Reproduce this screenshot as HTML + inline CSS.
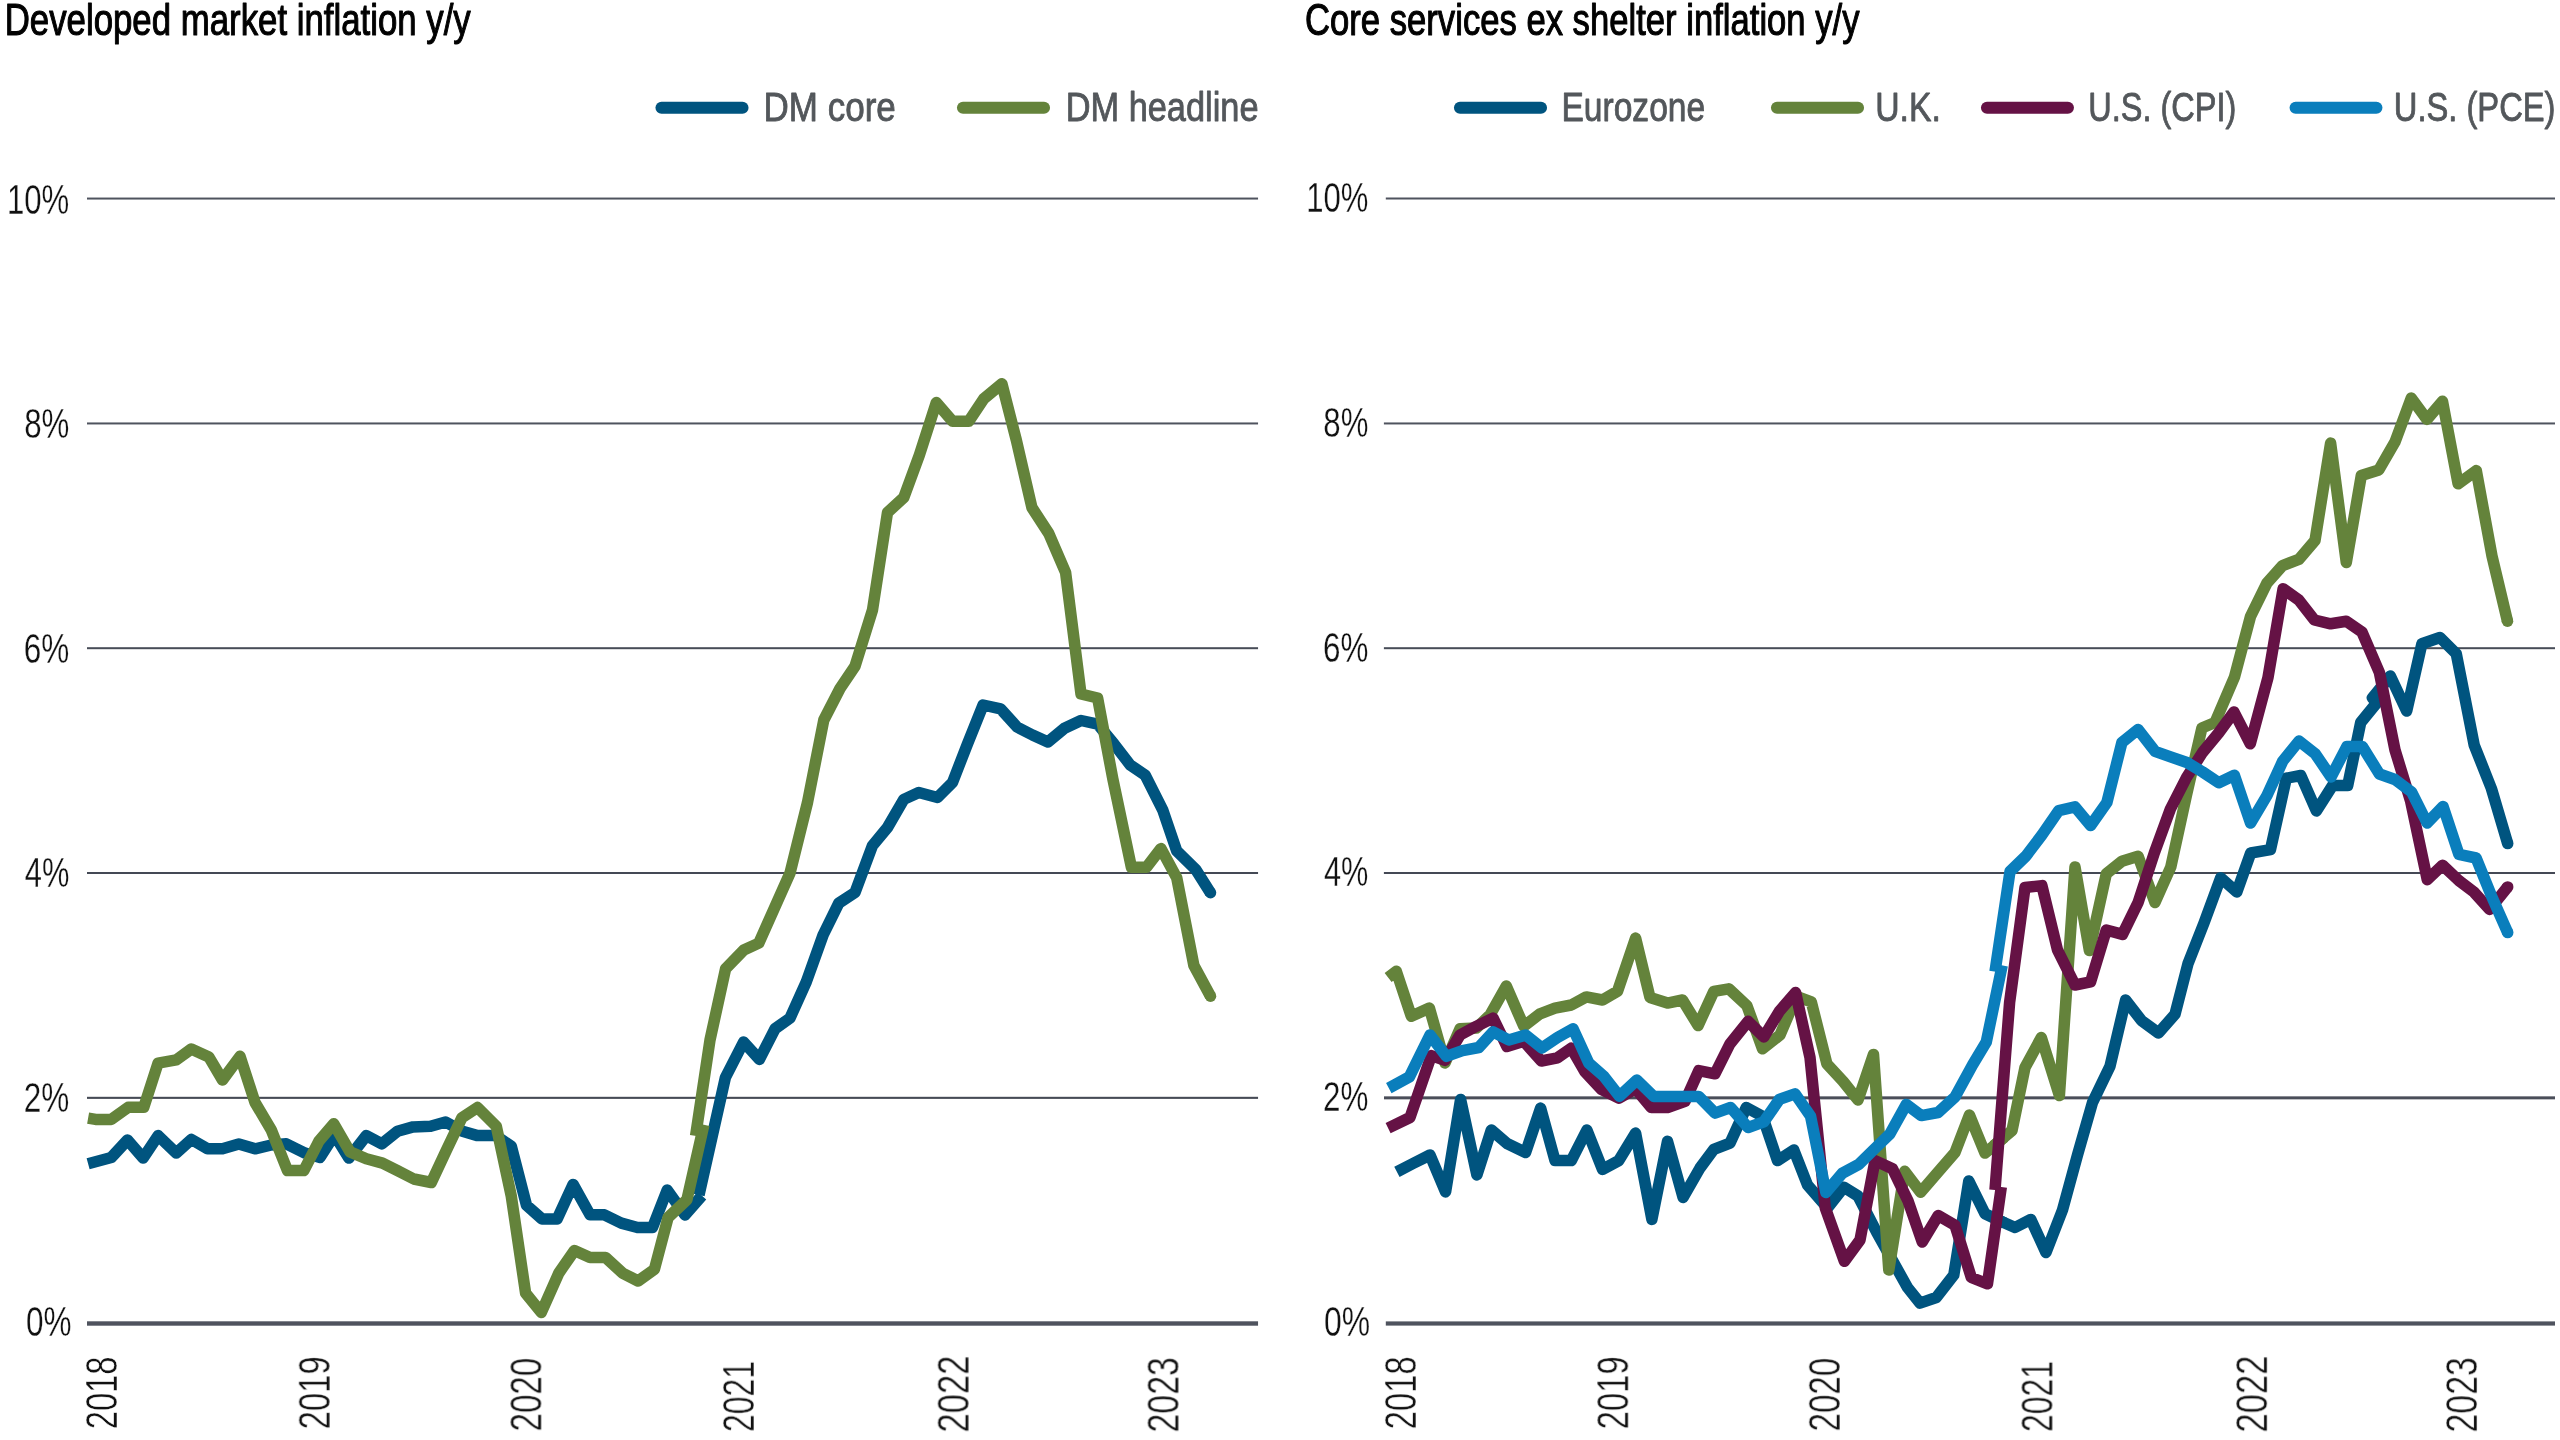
<!DOCTYPE html>
<html><head><meta charset="utf-8"><title>Inflation charts</title>
<style>html,body{margin:0;padding:0;background:#fff}svg{display:block}text{font-family:"Liberation Sans",sans-serif}</style></head><body>
<svg width="2560" height="1440" viewBox="0 0 2560 1440">
<rect width="2560" height="1440" fill="#fff"/>
<rect x="87.00" y="197.55" width="1171.05" height="2.00" fill="#4f535e"/>
<rect x="87.00" y="422.45" width="1171.05" height="2.00" fill="#4f535e"/>
<rect x="87.00" y="647.20" width="1171.05" height="2.00" fill="#474c57"/>
<rect x="87.00" y="872.00" width="1171.05" height="2.00" fill="#444955"/>
<rect x="87.00" y="1096.80" width="1171.05" height="2.10" fill="#464b56"/>
<rect x="87.00" y="1321.30" width="1171.05" height="4.40" fill="#4f535e"/>
<rect x="1385.80" y="197.50" width="1169.20" height="2.00" fill="#4f535e"/>
<rect x="1383.90" y="422.45" width="1171.10" height="2.00" fill="#4f535e"/>
<rect x="1383.90" y="647.20" width="1171.10" height="2.00" fill="#474c57"/>
<rect x="1383.90" y="872.00" width="1171.10" height="2.00" fill="#444955"/>
<rect x="1384.00" y="1096.35" width="1171.00" height="3.00" fill="#4a4e59"/>
<rect x="1385.80" y="1321.40" width="1169.20" height="4.20" fill="#4f535e"/>
<polyline fill="none" stroke="#00547f" stroke-width="11.5" stroke-linejoin="round" stroke-linecap="butt" points="88.1,1163.8 111.3,1157.5 127.5,1140.0 143.1,1158.1 158.1,1135.6 176.3,1153.1 191.3,1139.4 207.5,1148.8 222.5,1148.8 238.8,1144.0 255.0,1148.8 271.3,1145.0 286.3,1143.8 305.0,1153.1 320.0,1157.5 334.4,1134.8 348.8,1158.1 366.3,1135.6 381.9,1143.8 397.5,1131.3 413.1,1126.9 430.6,1126.3 445.6,1121.9 462.5,1131.3 477.5,1135.6 495.6,1135.6 511.3,1146.3 526.5,1205.3 541.9,1218.9 557.2,1218.9 573.1,1184.4 590.0,1214.8 604.4,1214.8 621.3,1223.1 637.5,1227.5 652.5,1227.5 667.2,1190.0 685.0,1215.0 701.9,1195.6"/>
<polyline fill="none" stroke="#00547f" stroke-width="11.5" stroke-linejoin="round" stroke-linecap="butt" points="699.0,1195.0 725.4,1077.5 743.6,1042.0 759.4,1059.4 775.0,1028.8 790.0,1018.1 806.3,981.9 823.1,935.0 838.8,903.1 855.0,892.5 872.5,845.6 887.5,827.5 903.8,799.4 918.8,792.5 937.5,797.5 952.5,782.5 967.5,743.8 983.1,705.0 1000.6,708.8 1017.0,727.0 1032.5,735.0 1047.9,742.0 1064.5,728.3 1081.0,720.5 1097.7,724.2 1114.0,744.0 1130.2,764.9 1145.3,775.3 1162.8,810.2 1176.7,850.9 1195.8,869.6 1210.5,892.8"/>
<circle cx="1210.5" cy="892.8" r="5.75" fill="#00547f"/>
<polyline fill="none" stroke="#64833b" stroke-width="11.5" stroke-linejoin="round" stroke-linecap="butt" points="88.1,1118.1 95.6,1119.4 111.3,1119.4 128.1,1107.3 143.8,1107.3 158.1,1063.1 176.3,1059.8 191.3,1049.0 208.8,1056.9 222.5,1080.0 240.0,1056.3 255.0,1102.5 271.3,1130.0 287.5,1170.6 303.8,1170.6 318.8,1141.3 333.8,1123.8 350.0,1151.9 366.3,1158.8 382.5,1163.1 397.5,1170.6 413.8,1179.0 431.3,1182.5 446.5,1150.0 461.9,1117.8 477.5,1107.5 496.3,1126.3 511.3,1196.3 525.6,1293.1 541.3,1312.5 558.8,1273.1 574.4,1250.6 590.0,1257.5 605.6,1257.5 622.5,1273.1 638.1,1281.0 654.4,1269.4 668.1,1217.5 686.9,1199.8 703.9,1124.7"/>
<polyline fill="none" stroke="#64833b" stroke-width="11.5" stroke-linejoin="round" stroke-linecap="butt" points="695.6,1135.8 710.0,1040.0 725.6,968.8 743.8,950.0 758.8,943.1 774.4,908.1 790.0,873.1 807.5,802.5 823.8,720.0 840.0,688.5 855.0,666.3 872.5,610.0 887.5,512.5 903.8,497.5 919.4,455.0 936.3,402.5 952.5,421.3 968.8,421.3 983.8,398.8 1001.9,383.8 1016.3,440.0 1031.9,507.5 1048.8,533.5 1065.6,572.5 1081.0,694.0 1097.6,698.0 1112.8,778.8 1131.4,867.2 1146.5,867.2 1160.9,848.6 1176.7,877.7 1193.9,965.6 1210.5,996.3"/>
<circle cx="1210.5" cy="996.3" r="5.75" fill="#64833b"/>
<polyline fill="none" stroke="#00547f" stroke-width="11.5" stroke-linejoin="round" stroke-linecap="butt" points="1396.9,1171.9 1413.0,1163.5 1430.0,1155.0 1445.6,1191.9 1460.6,1099.4 1476.9,1175.0 1491.3,1130.0 1507.5,1143.8 1525.6,1152.5 1540.6,1108.1 1555.0,1160.6 1571.3,1160.6 1586.9,1130.0 1602.5,1169.4 1618.8,1160.6 1635.6,1133.1 1651.9,1219.4 1667.5,1141.3 1683.1,1197.5 1700.0,1168.0 1713.8,1149.4 1730.0,1143.1 1746.3,1107.5 1762.5,1116.3 1777.5,1160.6 1793.8,1150.0 1807.5,1185.0 1827.5,1208.0 1843.8,1187.2 1858.0,1196.0 1876.5,1231.9 1892.5,1260.6 1907.5,1287.5 1920.0,1303.1 1936.3,1297.5 1953.8,1275.0 1968.8,1181.0 1985.0,1213.8 2004.5,1223.0"/>
<polyline fill="none" stroke="#00547f" stroke-width="11.5" stroke-linejoin="round" stroke-linecap="butt" points="1993.5,1218.0 2015.0,1227.5 2030.8,1219.4 2046.0,1252.5 2062.5,1210.0 2077.5,1155.0 2092.5,1102.5 2110.0,1066.3 2125.6,1000.0 2141.5,1020.6 2158.5,1033.0 2175.0,1014.3 2188.0,963.6 2204.0,923.0 2220.7,877.8 2236.8,892.0 2250.7,853.0 2270.5,849.6 2286.3,778.2 2300.8,775.5 2316.4,811.0 2332.5,785.6 2347.7,785.6 2360.7,722.5 2376.6,703.0 2372.4,697.8 2390.3,676.0 2406.7,711.0 2421.9,643.8 2440.0,637.5 2456.3,653.8 2474.2,745.1 2491.4,788.5 2507.7,843.6"/>
<circle cx="2507.7" cy="843.6" r="5.75" fill="#00547f"/>
<polyline fill="none" stroke="#64833b" stroke-width="11.5" stroke-linejoin="round" stroke-linecap="butt" points="1388.1,977.5 1396.3,971.3 1411.3,1016.3 1429.4,1008.1 1445.0,1063.0 1460.0,1028.8 1476.3,1028.1 1490.0,1015.0 1506.3,986.0 1523.8,1026.3 1540.0,1013.8 1555.0,1008.1 1571.3,1005.0 1586.3,996.9 1602.5,1000.0 1617.5,991.3 1635.6,938.1 1650.0,997.5 1667.5,1003.1 1682.5,1000.0 1698.1,1025.6 1713.8,991.3 1728.8,988.8 1746.9,1005.6 1762.5,1048.8 1780.0,1035.0 1796.5,996.3 1811.3,1001.9 1826.9,1063.8 1843.1,1081.3 1858.0,1100.0 1873.5,1054.4 1888.8,1270.0 1904.6,1171.3 1920.6,1192.2 1938.1,1171.9 1955.0,1152.5 1969.4,1115.0 1985.0,1153.1 2004.5,1137.0"/>
<polyline fill="none" stroke="#64833b" stroke-width="11.5" stroke-linejoin="round" stroke-linecap="butt" points="1993.5,1146.0 2012.0,1130.5 2025.0,1067.5 2041.3,1037.5 2059.4,1095.6 2075.0,866.9 2089.4,950.6 2106.3,873.8 2121.9,861.3 2138.1,856.3 2155.0,902.5 2170.8,867.0 2186.5,795.0 2201.9,728.0 2215.0,722.5 2234.5,677.0 2250.5,616.5 2266.9,583.1 2282.5,565.6 2298.8,559.4 2315.0,540.6 2330.6,443.1 2346.3,562.5 2361.3,475.6 2378.8,470.0 2395.0,441.9 2411.3,398.1 2426.9,419.4 2442.5,401.3 2458.1,483.8 2476.3,470.6 2492.0,556.0 2507.5,621.3"/>
<circle cx="2507.5" cy="621.3" r="5.75" fill="#64833b"/>
<polyline fill="none" stroke="#651245" stroke-width="11.5" stroke-linejoin="round" stroke-linecap="butt" points="1388.1,1128.1 1410.0,1117.5 1431.3,1055.6 1445.0,1060.3 1460.0,1035.0 1476.3,1026.3 1493.1,1018.1 1506.9,1046.5 1523.8,1041.3 1541.3,1061.0 1557.5,1057.8 1571.3,1048.1 1585.0,1071.9 1601.3,1089.4 1618.8,1098.1 1635.6,1088.8 1651.3,1107.5 1667.5,1107.5 1685.0,1101.3 1698.8,1070.6 1715.0,1073.8 1730.0,1043.8 1748.1,1021.3 1763.8,1036.9 1779.4,1011.3 1795.6,992.5 1810.0,1057.5 1825.3,1208.0 1844.4,1261.3 1860.0,1240.0 1875.0,1160.6 1892.5,1168.8 1908.2,1201.3 1922.2,1242.0 1938.2,1215.6 1955.0,1225.3 1971.3,1277.5 1987.5,1283.8 2001.3,1187.0"/>
<polyline fill="none" stroke="#651245" stroke-width="11.5" stroke-linejoin="round" stroke-linecap="butt" points="1995.0,1190.0 2009.6,1002.5 2025.0,887.5 2041.9,885.6 2057.5,950.0 2075.0,985.0 2090.6,981.9 2106.3,930.0 2122.5,934.4 2138.1,902.5 2154.3,853.0 2170.4,809.0 2186.5,777.5 2202.5,752.5 2218.6,733.0 2234.0,712.0 2250.3,743.8 2268.0,677.5 2283.1,588.8 2298.8,600.0 2314.4,620.0 2330.6,623.8 2346.3,621.3 2361.9,631.9 2379.4,672.5 2395.0,750.0 2410.6,801.0 2427.3,879.7 2442.6,865.2 2458.9,880.6 2474.2,892.3 2489.6,909.5 2507.7,886.9"/>
<circle cx="2507.7" cy="886.9" r="5.75" fill="#651245"/>
<polyline fill="none" stroke="#0a7ebc" stroke-width="11.5" stroke-linejoin="round" stroke-linecap="butt" points="1388.8,1088.1 1409.4,1076.9 1430.0,1035.0 1446.3,1056.3 1462.5,1050.6 1478.8,1047.5 1493.1,1031.9 1508.8,1040.0 1525.6,1035.0 1541.9,1048.1 1557.5,1037.5 1573.1,1028.8 1588.8,1063.1 1603.8,1076.3 1619.4,1096.3 1636.9,1080.0 1653.8,1096.5 1698.8,1096.4 1715.0,1113.1 1730.6,1107.5 1748.1,1127.5 1763.8,1121.9 1779.4,1099.4 1795.0,1093.8 1810.6,1116.3 1825.9,1192.5 1842.5,1173.1 1858.8,1164.4 1874.4,1149.0 1890.0,1133.8 1906.3,1104.4 1921.3,1115.6 1938.1,1112.5 1955.0,1096.9 1972.5,1065.0 1986.3,1042.0 2002.2,965.3"/>
<polyline fill="none" stroke="#0a7ebc" stroke-width="11.5" stroke-linejoin="round" stroke-linecap="butt" points="1995.0,971.6 2010.0,871.5 2026.0,856.0 2041.9,835.0 2058.8,810.6 2075.0,806.9 2090.6,825.6 2106.9,802.5 2121.9,742.5 2138.1,729.4 2155.0,751.3 2170.6,756.9 2186.9,762.5 2202.5,771.9 2218.8,782.8 2234.4,775.3 2250.6,823.1 2266.9,795.6 2282.8,761.0 2299.0,741.0 2315.2,753.7 2331.0,777.0 2346.8,746.6 2362.4,746.6 2379.4,774.0 2394.9,779.5 2411.6,792.0 2427.1,823.0 2443.0,806.4 2458.9,854.4 2476.1,858.0 2491.5,896.0 2507.7,932.6"/>
<circle cx="2507.7" cy="932.6" r="5.75" fill="#0a7ebc"/>
<line x1="661.5" y1="107.7" x2="742.5" y2="107.7" stroke="#00547f" stroke-width="12.1" stroke-linecap="round"/>
<line x1="963.0" y1="107.7" x2="1044.0" y2="107.7" stroke="#64833b" stroke-width="12.1" stroke-linecap="round"/>
<line x1="1460.0" y1="107.7" x2="1541.0" y2="107.7" stroke="#00547f" stroke-width="12.1" stroke-linecap="round"/>
<line x1="1777.0" y1="107.7" x2="1858.0" y2="107.7" stroke="#64833b" stroke-width="12.1" stroke-linecap="round"/>
<line x1="1987.0" y1="107.7" x2="2067.9" y2="107.7" stroke="#651245" stroke-width="12.1" stroke-linecap="round"/>
<line x1="2295.6" y1="107.7" x2="2376.4" y2="107.7" stroke="#0a7ebc" stroke-width="12.1" stroke-linecap="round"/>
<g opacity="0.999">
<text transform="translate(763.60,120.90) scale(0.8622,1)" font-size="40.58" fill="#53575b" stroke="#53575b" stroke-width="0.80" vector-effect="non-scaling-stroke" stroke-linejoin="round">DM core</text>
<text transform="translate(1065.65,120.90) scale(0.8470,1)" font-size="40.58" fill="#53575b" stroke="#53575b" stroke-width="0.80" vector-effect="non-scaling-stroke" stroke-linejoin="round">DM headline</text>
<text transform="translate(1561.46,121.10) scale(0.8217,1)" font-size="40.87" fill="#53575b" stroke="#53575b" stroke-width="0.80" vector-effect="non-scaling-stroke" stroke-linejoin="round">Eurozone</text>
<text transform="translate(1875.20,121.10) scale(0.8253,1)" font-size="40.87" fill="#53575b" stroke="#53575b" stroke-width="0.80" vector-effect="non-scaling-stroke" stroke-linejoin="round">U.K.</text>
<text transform="translate(2088.30,121.10) scale(0.7945,1)" font-size="40.87" fill="#53575b" stroke="#53575b" stroke-width="0.80" vector-effect="non-scaling-stroke" stroke-linejoin="round">U.S. (CPI)</text>
<text transform="translate(2393.78,121.10) scale(0.8001,1)" font-size="40.87" fill="#53575b" stroke="#53575b" stroke-width="0.80" vector-effect="non-scaling-stroke" stroke-linejoin="round">U.S. (PCE)</text>
<text transform="translate(4.72,34.50) scale(0.7874,1)" font-size="44.20" fill="#000" stroke="#000" stroke-width="1.00" vector-effect="non-scaling-stroke" stroke-linejoin="round">Developed market inflation y/y</text>
<text transform="translate(1305.02,34.50) scale(0.7840,1)" font-size="44.20" fill="#000" stroke="#000" stroke-width="1.00" vector-effect="non-scaling-stroke" stroke-linejoin="round">Core services ex shelter inflation y/y</text>
<text transform="translate(6.91,213.78) scale(0.7375,1)" font-size="42.25" fill="#111" stroke="#fff" stroke-width="0.30" paint-order="fill stroke">10%</text>
<text transform="translate(1306.26,211.78) scale(0.7357,1)" font-size="42.25" fill="#111" stroke="#fff" stroke-width="0.30" paint-order="fill stroke">10%</text>
<text transform="translate(24.15,438.28) scale(0.7411,1)" font-size="42.25" fill="#111" stroke="#fff" stroke-width="0.30" paint-order="fill stroke">8%</text>
<text transform="translate(1323.35,436.68) scale(0.7376,1)" font-size="42.25" fill="#111" stroke="#fff" stroke-width="0.30" paint-order="fill stroke">8%</text>
<text transform="translate(23.82,662.78) scale(0.7465,1)" font-size="42.25" fill="#111" stroke="#fff" stroke-width="0.30" paint-order="fill stroke">6%</text>
<text transform="translate(1323.03,661.58) scale(0.7431,1)" font-size="42.25" fill="#111" stroke="#fff" stroke-width="0.30" paint-order="fill stroke">6%</text>
<text transform="translate(24.78,887.27) scale(0.7201,1)" font-size="42.86" fill="#111" stroke="#fff" stroke-width="0.30" paint-order="fill stroke">4%</text>
<text transform="translate(1323.99,886.47) scale(0.7168,1)" font-size="42.86" fill="#111" stroke="#fff" stroke-width="0.30" paint-order="fill stroke">4%</text>
<text transform="translate(23.82,1111.78) scale(0.7465,1)" font-size="42.25" fill="#111" stroke="#fff" stroke-width="0.30" paint-order="fill stroke">2%</text>
<text transform="translate(1323.03,1111.38) scale(0.7431,1)" font-size="42.25" fill="#111" stroke="#fff" stroke-width="0.30" paint-order="fill stroke">2%</text>
<text transform="translate(25.94,1336.28) scale(0.7463,1)" font-size="42.25" fill="#111" stroke="#fff" stroke-width="0.30" paint-order="fill stroke">0%</text>
<text transform="translate(1324.12,1336.28) scale(0.7549,1)" font-size="42.25" fill="#111" stroke="#fff" stroke-width="0.30" paint-order="fill stroke">0%</text>
<text transform="translate(117.46,1429.34) rotate(-90) scale(0.7386,1)" font-size="44.37" fill="#111" stroke="#fff" stroke-width="0.45" paint-order="fill stroke">2018</text>
<text transform="translate(1415.96,1429.34) rotate(-90) scale(0.7386,1)" font-size="44.37" fill="#111" stroke="#fff" stroke-width="0.45" paint-order="fill stroke">2018</text>
<text transform="translate(329.76,1429.34) rotate(-90) scale(0.7530,1)" font-size="43.52" fill="#111" stroke="#fff" stroke-width="0.45" paint-order="fill stroke">2019</text>
<text transform="translate(1628.26,1429.34) rotate(-90) scale(0.7530,1)" font-size="43.52" fill="#111" stroke="#fff" stroke-width="0.45" paint-order="fill stroke">2019</text>
<text transform="translate(541.36,1431.45) rotate(-90) scale(0.7605,1)" font-size="43.52" fill="#111" stroke="#fff" stroke-width="0.45" paint-order="fill stroke">2020</text>
<text transform="translate(1839.86,1431.45) rotate(-90) scale(0.7605,1)" font-size="43.52" fill="#111" stroke="#fff" stroke-width="0.45" paint-order="fill stroke">2020</text>
<text transform="translate(753.96,1431.99) rotate(-90) scale(0.7303,1)" font-size="43.66" fill="#111" stroke="#fff" stroke-width="0.45" paint-order="fill stroke">2021</text>
<text transform="translate(2052.46,1431.99) rotate(-90) scale(0.7303,1)" font-size="43.66" fill="#111" stroke="#fff" stroke-width="0.45" paint-order="fill stroke">2021</text>
<text transform="translate(968.66,1432.53) rotate(-90) scale(0.7941,1)" font-size="43.66" fill="#111" stroke="#fff" stroke-width="0.45" paint-order="fill stroke">2022</text>
<text transform="translate(2267.16,1432.53) rotate(-90) scale(0.7941,1)" font-size="43.66" fill="#111" stroke="#fff" stroke-width="0.45" paint-order="fill stroke">2022</text>
<text transform="translate(1178.55,1432.49) rotate(-90) scale(0.7581,1)" font-size="44.65" fill="#111" stroke="#fff" stroke-width="0.45" paint-order="fill stroke">2023</text>
<text transform="translate(2477.05,1432.49) rotate(-90) scale(0.7581,1)" font-size="44.65" fill="#111" stroke="#fff" stroke-width="0.45" paint-order="fill stroke">2023</text>
</g>
</svg></body></html>
